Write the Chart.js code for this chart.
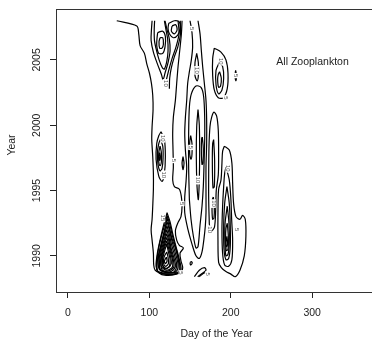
<!DOCTYPE html>
<html lang="en">
<head>
  <meta charset="UTF-8">
  <title>All Zooplankton</title>
  <script src="https://cdn.jsdelivr.net/npm/chart.js"></script>
  <style>
    html, body { margin: 0; padding: 0; background: #fff; overflow: hidden; }
    .grafico { width: 380px; height: 346px; }
  </style>
</head>
<body>
  <div class="grafico">
    <canvas id="gf1" width="380" height="346"></canvas>
  </div>

<script>
  // eixos
  const xTicks = [0, 100, 200, 300]
  const yTicks = [1990, 1995, 2000, 2005]
  const xMin = -14.6, xMax = 379.6
  const yMin = 1987.23, yMax = 2008.9

  // linhas de contorno, pontos [dia do ano, ano]
  const troncoFora = [[60, 2008.0], [84.6, 2007.6], [87.0, 2007.0], [88.7, 2006.1], [94.0, 2005.5], [96.9, 2004.7], [100.1, 2004.0], [102.6, 2003.2], [104.2, 2002.3], [104.6, 2001.2], [103.4, 1999.9], [103.0, 1998.9], [104.2, 1997.6], [105.0, 1996.3], [105.0, 1995.1], [104.2, 1993.8], [103.4, 1992.8], [102.2, 1992.0], [103.4, 1991.2], [105.0, 1990.2], [105.4, 1989.3], [107.1, 1988.9], [112.4, 1988.7], [120.6, 1988.6], [130.8, 1988.6], [138.9, 1988.7], [141.0, 1989.1], [138.9, 1989.6], [137.7, 1990.2], [141.8, 1990.6], [136.9, 1990.8], [133.6, 1991.2], [132.0, 1991.9], [134.9, 1992.5], [138.9, 1993.0], [140.2, 1993.8], [139.4, 1994.5], [136.9, 1995.1], [130.8, 1995.3], [128.7, 1995.8], [129.5, 1996.8], [129.1, 1998.1], [128.7, 1999.4], [129.5, 2000.6], [132.0, 2001.9], [133.6, 2003.2], [135.3, 2004.5], [137.3, 2005.7], [139.4, 2007.0], [140.2, 2008.0]]
  const lingua = [[103.4, 2008.0], [102.6, 2007.3], [102.2, 2006.5], [105.0, 2005.6], [109.9, 2004.7], [114.8, 2003.9], [116.9, 2003.5], [119.3, 2004.0], [123.0, 2004.8], [125.5, 2005.7], [124.6, 2006.6], [121.4, 2007.4], [119.3, 2008.0]]
  const lingua2 = [[106.5, 2008.0], [106.0, 2007.3], [106.3, 2006.5], [108.5, 2005.8], [112.0, 2005.0], [116.0, 2004.4], [118.5, 2004.3], [121.5, 2004.9], [123.0, 2005.7], [122.5, 2006.6], [120.5, 2007.3], [118.5, 2008.0]]
  const linguaDir = [[135.3, 2008.0], [136.5, 2007.0], [132.8, 2006.0], [127.9, 2005.1], [123.8, 2004.2], [120.6, 2003.4]]
  const linguaDir2 = [[138.0, 2008.0], [138.3, 2007.0], [135.0, 2006.0], [130.5, 2005.2], [127.0, 2004.4], [125.0, 2003.6], [124.6, 2002.8]]
  const laco1 = [[110.3, 2007.1], [116.5, 2007.2], [119.7, 2006.8], [119.3, 2006.0], [116.5, 2005.5], [111.6, 2005.5], [109.1, 2006.1], [109.5, 2006.7], [110.3, 2007.1]]
  const laco2 = [[113.2, 2006.7], [116.5, 2006.7], [117.3, 2006.2], [115.6, 2005.9], [112.8, 2005.9], [111.9, 2006.4], [113.2, 2006.7]]
  const laco3 = [[123.8, 2007.8], [130.8, 2008.0], [136.9, 2007.9], [137.7, 2007.4], [134.9, 2006.9], [129.5, 2006.7], [124.6, 2007.0], [123.0, 2007.4], [123.8, 2007.8]]
  const laco4 = [[127.9, 2007.6], [132.4, 2007.7], [134.1, 2007.3], [130.8, 2007.0], [127.1, 2007.2], [127.9, 2007.6]]

  const meio1 = [[114.4, 1999.5], [118.5, 1998.9], [119.7, 1997.6], [118.5, 1996.3], [115.6, 1995.7], [111.6, 1996.1], [108.3, 1997.4], [109.1, 1998.6], [111.6, 1999.2], [114.4, 1999.5]]
  const meio2 = [[113.6, 1998.9], [116.5, 1998.4], [116.9, 1997.5], [115.6, 1996.7], [113.2, 1996.5], [110.7, 1997.0], [109.9, 1997.9], [111.6, 1998.6], [113.6, 1998.9]]
  const meio3 = [[113.2, 1998.4], [114.8, 1997.9], [114.8, 1997.2], [113.2, 1996.9], [111.6, 1997.2], [111.6, 1997.9], [113.2, 1998.4]]
  const meio4 = [[112.8, 1997.9], [113.6, 1997.6], [112.8, 1997.3], [112.0, 1997.6], [112.8, 1997.9]]

  const gota1 = [[121.8, 1993.3], [125.5, 1992.6], [128.7, 1991.7], [132.8, 1990.7], [136.9, 1989.7], [138.9, 1988.9], [132.8, 1988.6], [120.6, 1988.5], [111.6, 1988.7], [108.3, 1989.2], [109.9, 1990.2], [113.2, 1991.2], [117.3, 1992.3], [121.8, 1993.3]]
  const gotaA = [[121.8, 1993.1], [125.0, 1992.45], [128.3, 1991.55], [132.6, 1990.6], [136.5, 1989.6], [137.5, 1988.85], [130.0, 1988.6], [118.5, 1988.6], [110.5, 1988.8], [109.1, 1989.5], [111.2, 1990.5], [114.8, 1991.5], [119.5, 1992.5], [121.8, 1993.1]]
  const gota2 = [[121.8, 1992.9], [124.2, 1992.3], [127.5, 1991.4], [132.4, 1990.5], [136.1, 1989.5], [136.1, 1988.8], [127.9, 1988.7], [116.5, 1988.7], [109.5, 1988.9], [110.3, 1989.8], [114.4, 1990.8], [118.1, 1991.7], [121.8, 1992.9]]
  const gota3 = [[121.8, 1992.6], [124.6, 1992.0], [127.9, 1991.1], [132.0, 1990.2], [135.3, 1989.3], [132.8, 1988.8], [122.6, 1988.7], [113.2, 1988.9], [110.7, 1989.5], [112.4, 1990.3], [115.6, 1991.2], [118.9, 1992.0], [121.8, 1992.6]]
  const gotaB = [[121.6, 1992.3], [124.4, 1991.7], [127.3, 1990.85], [131.2, 1990.0], [133.6, 1989.25], [129.8, 1988.75], [120.5, 1988.75], [113.2, 1988.95], [111.8, 1989.6], [113.8, 1990.4], [117.0, 1991.25], [121.6, 1992.3]]
  const gota4 = [[121.4, 1992.0], [124.2, 1991.4], [126.7, 1990.6], [130.4, 1989.8], [132.0, 1989.2], [126.7, 1988.8], [118.5, 1988.8], [113.2, 1989.0], [112.8, 1989.7], [115.2, 1990.5], [118.5, 1991.3], [121.4, 1992.0]]
  const gotaC = [[121.4, 1991.7], [124.0, 1991.15], [126.5, 1990.4], [129.5, 1989.7], [130.0, 1989.15], [123.6, 1988.85], [116.0, 1988.9], [114.0, 1989.35], [114.0, 1989.75], [116.3, 1990.5], [118.9, 1991.15], [121.4, 1991.7]]
  const gota5 = [[121.4, 1991.4], [123.8, 1990.9], [126.3, 1990.2], [128.7, 1989.6], [127.9, 1989.1], [120.6, 1988.9], [114.8, 1989.2], [114.8, 1989.8], [117.3, 1990.5], [119.3, 1991.0], [121.4, 1991.4]]
  const gotaD = [[121.4, 1991.15], [123.6, 1990.6], [125.9, 1990.0], [127.0, 1989.4], [122.0, 1989.05], [117.5, 1989.15], [115.5, 1989.55], [117.9, 1990.45], [121.4, 1991.15]]
  const gota6 = [[121.4, 1990.9], [123.4, 1990.3], [125.5, 1989.7], [124.6, 1989.2], [119.7, 1989.0], [116.1, 1989.3], [116.5, 1989.8], [118.9, 1990.4], [121.4, 1990.9]]
  const gota7 = [[121.4, 1990.3], [123.0, 1989.9], [123.4, 1989.4], [119.7, 1989.2], [117.3, 1989.5], [118.1, 1989.9], [121.4, 1990.3]]
  const gota8 = [[121.0, 1989.9], [121.8, 1989.6], [119.7, 1989.4], [118.5, 1989.6], [121.0, 1989.9]]

  const ponto1 = [[150.0, 1989.5], [152.0, 1989.55], [152.5, 1989.4], [150.5, 1989.3], [150.0, 1989.5]]
  const zigue1 = [[155.3, 1988.4], [161.4, 1988.9], [167.6, 1989.1], [169.6, 1988.9], [163.5, 1988.6], [159.4, 1988.4]]
  const zigue2 = [[161.4, 1988.4], [167.6, 1988.7], [173.7, 1988.6]]

  const faixaFora = [[150.0, 2008.0], [152.4, 2007.1], [153.2, 2006.0], [151.6, 2005.0], [149.2, 2004.1], [147.1, 2003.2], [145.9, 2001.9], [144.3, 2000.6], [143.5, 1999.4], [144.3, 1998.1], [145.9, 1996.8], [145.1, 1995.7], [143.5, 1994.5], [143.5, 1993.3], [147.5, 1992.0], [152.4, 1990.9], [157.3, 1990.0], [161.4, 1989.8], [164.7, 1990.3], [167.1, 1991.3], [168.8, 1992.3], [169.6, 1993.3], [169.6, 1994.8], [169.6, 1996.8], [170.4, 1998.6], [170.4, 2000.4], [169.6, 2001.9], [167.6, 2003.2], [165.5, 2004.5], [163.9, 2005.7], [162.3, 2007.0], [159.8, 2008.0]]
  const faixaArco = [[149.2, 1994.3], [148.3, 1996.8], [148.3, 1999.4], [149.2, 2001.4], [151.6, 2002.4], [157.3, 2003.0], [163.5, 2002.9], [166.7, 2002.2], [168.0, 2000.6], [168.0, 1998.9], [167.1, 1996.8], [166.3, 1995.3], [164.7, 1993.8], [162.2, 1992.3], [159.8, 1990.7], [157.3, 1990.6], [154.1, 1991.5], [151.2, 1992.8], [149.2, 1994.3]]
  const faixa1 = [[158.2, 2005.5], [160.2, 2004.8], [160.2, 2003.8], [158.6, 2003.4], [156.1, 2003.8], [156.1, 2004.8], [158.2, 2005.5]]
  const faixa2 = [[159.8, 2001.2], [161.4, 2000.0], [161.8, 1997.9], [161.4, 1995.9], [160.2, 1994.3], [158.6, 1995.3], [157.7, 1997.6], [158.2, 1999.9], [159.8, 2001.2]]
  const faixa3 = [[150.8, 1999.2], [152.4, 1998.6], [152.4, 1997.8], [151.2, 1997.4], [149.6, 1997.8], [149.6, 1998.7], [150.8, 1999.2]]
  const faixa4 = [[141.4, 1997.6], [142.6, 1997.1], [141.4, 1996.6], [140.2, 1997.1], [141.4, 1997.6]]
  const faixa5 = [[165.1, 1999.1], [166.3, 1998.2], [165.9, 1997.1], [164.7, 1997.0], [163.9, 1998.1], [164.3, 1999.0], [165.1, 1999.1]]
  const arcoDir = [[173.7, 1992.4], [172.9, 1994.3], [172.9, 1996.3], [173.3, 1998.4], [174.5, 1999.9], [176.5, 2000.6], [179.4, 2001.0], [182.7, 2000.7], [184.7, 1999.6], [185.1, 1997.8], [184.7, 1996.2], [182.2, 1995.0], [181.5, 1993.5], [180.0, 1992.2], [176.1, 1991.9], [173.7, 1992.4]]
  const arco1 = [[178.6, 1994.5], [179.8, 1993.8], [179.4, 1992.9], [177.8, 1992.8], [177.0, 1993.5], [177.4, 1994.3], [178.6, 1994.5]]
  const arco2 = [[179.0, 1998.9], [180.2, 1997.3], [179.8, 1995.3], [178.2, 1995.2], [177.4, 1997.1], [177.8, 1998.6], [179.0, 1998.9]]

  const cima1 = [[179.8, 2005.9], [188.0, 2005.6], [194.1, 2005.0], [196.6, 2004.0], [195.7, 2002.8], [190.9, 2002.1], [184.7, 2002.1], [179.8, 2002.7], [177.8, 2003.8], [177.8, 2005.1], [179.8, 2005.9]]
  const cima2 = [[185.9, 2004.8], [190.0, 2004.5], [191.3, 2003.6], [189.2, 2002.7], [185.1, 2002.4], [181.9, 2003.1], [181.9, 2004.2], [185.9, 2004.8]]
  const cima3 = [[186.3, 2004.1], [188.4, 2003.6], [187.5, 2003.0], [185.1, 2002.9], [183.9, 2003.5], [184.7, 2003.9], [186.3, 2004.1]]
  const cimaPonto = [[206.0, 2004.2], [207.2, 2003.8], [206.4, 2003.4], [205.2, 2003.8], [206.0, 2004.2]]

  const baixo1 = [[192.1, 1998.4], [198.2, 1998.1], [201.4, 1997.1], [202.3, 1995.6], [203.5, 1994.0], [206.4, 1993.0], [211.3, 1992.8], [214.5, 1993.1], [217.8, 1992.8], [218.6, 1991.5], [216.6, 1990.0], [211.3, 1988.9], [205.5, 1988.4], [200.2, 1988.6], [194.1, 1988.8], [188.4, 1989.1], [185.1, 1989.5], [184.3, 1991.2], [184.3, 1993.3], [185.1, 1995.1], [188.0, 1995.8], [189.2, 1997.1], [190.0, 1998.0], [192.1, 1998.4]]
  const baixo2 = [[194.1, 1996.8], [198.2, 1995.8], [200.2, 1994.3], [201.1, 1992.8], [202.3, 1991.2], [201.4, 1989.7], [197.4, 1989.2], [192.5, 1989.3], [190.0, 1990.2], [189.2, 1992.0], [190.0, 1993.8], [191.3, 1995.3], [192.5, 1996.3], [194.1, 1996.8]]
  const baixo3 = [[195.3, 1995.3], [198.2, 1994.0], [199.4, 1992.3], [199.4, 1990.7], [197.4, 1989.8], [194.1, 1989.7], [191.7, 1990.5], [191.3, 1992.3], [192.5, 1994.0], [195.3, 1995.3]]
  const baixo4 = [[195.7, 1993.8], [197.8, 1992.5], [198.2, 1991.0], [196.6, 1990.1], [194.1, 1990.0], [192.9, 1990.9], [192.9, 1992.4], [195.7, 1993.8]]
  const baixo5 = [[195.7, 1992.5], [197.0, 1991.5], [196.6, 1990.5], [194.5, 1990.4], [193.7, 1991.4], [194.1, 1992.1], [195.7, 1992.5]]
  const baixo6 = [[195.3, 1991.5], [196.2, 1990.9], [194.9, 1990.7], [194.1, 1991.0], [195.3, 1991.5]]

  const contornos = [troncoFora, lingua, lingua2, linguaDir, linguaDir2, laco1, laco2, laco3, laco4,
    meio1, meio2, meio3, meio4,
    gota1, gotaA, gota2, gota3, gotaB, gota4, gotaC, gota5, gotaD, gota6, gota7, gota8,
    ponto1, zigue1, zigue2,
    faixaFora, faixaArco, faixa1, faixa2, faixa3, faixa4, faixa5, arcoDir, arco1, arco2,
    cima1, cima2, cima3, cimaPonto,
    baixo1, baixo2, baixo3, baixo4, baixo5, baixo6]

  // rotulos dos niveis [dia, ano, texto]
  const rotulos = [[119.5, 2003.2, '10'], [151.8, 2007.4, '5'], [158.2, 2004.2, '10'], [188.0, 2004.9, '10'],
    [193.3, 2002.1, '5'], [206.6, 2003.8, '5'], [116.5, 1999.0, '10'], [117.3, 1996.2, '10'],
    [129.3, 1997.3, '5'], [150.8, 1998.3, '5'], [159.8, 1995.8, '10'], [178.6, 1994.0, '10'],
    [174.1, 1992.0, '10'], [140.2, 1994.0, '5'], [196.6, 1996.7, '10'], [207.2, 1992.0, '5'],
    [139.0, 1988.7, '5'], [171.6, 1988.6, '5'], [116.5, 1992.9, '15']]

  const textoCanto = 'All Zooplankton'
  const textoCantoPos = [256, 2004.8]

  const fonte = '"Liberation Sans", Arial, sans-serif'

  const plugMoldura = {
    id: 'moldura',
    afterDatasetsDraw(chart) {
      const { ctx, chartArea: a, scales: { x, y } } = chart
      ctx.save()

      // rotulos das curvas
      ctx.font = '6px ' + fonte
      ctx.textAlign = 'center'
      ctx.textBaseline = 'middle'
      for (const [dia, ano, txt] of rotulos) {
        ctx.save()
        ctx.translate(x.getPixelForValue(dia), y.getPixelForValue(ano))
        ctx.rotate(Math.PI / 2)
        const w = ctx.measureText(txt).width
        ctx.fillStyle = '#fff'
        ctx.fillRect(-w / 2 - 1, -2.5, w + 2, 5)
        ctx.fillStyle = '#555'
        ctx.fillText(txt, 0, 0)
        ctx.restore()
      }

      // caixa
      ctx.strokeStyle = '#333'
      ctx.lineWidth = 1
      ctx.strokeRect(a.left + 0.5, a.top + 0.5, a.right - a.left - 1, a.bottom - a.top)

      ctx.fillStyle = '#222'
      ctx.font = '10.5px ' + fonte

      // anos do eixo y (na vertical)
      for (const v of yTicks) {
        ctx.save()
        ctx.translate(37, y.getPixelForValue(v))
        ctx.rotate(-Math.PI / 2)
        ctx.fillText(String(v), 0, 0)
        ctx.restore()
      }

      // titulos
      ctx.save()
      ctx.translate(12, 145)
      ctx.rotate(-Math.PI / 2)
      ctx.fillText('Year', 0, 0)
      ctx.restore()

      ctx.fillText('Day of the Year', (a.left + a.right) / 2, 334)

      ctx.textAlign = 'left'
      ctx.fillText(textoCanto, x.getPixelForValue(textoCantoPos[0]), y.getPixelForValue(textoCantoPos[1]))

      ctx.restore()
    }
  }

  const ctx = document.getElementById('gf1').getContext('2d')

  new Chart(ctx, {
    type: 'scatter',
    data: {
      datasets: contornos.map(function (linha) {
        return {
          data: linha.map(p => ({ x: p[0], y: p[1] })),
          showLine: true,
          pointRadius: 0,
          borderColor: '#000',
          borderWidth: 1.2,
          tension: 0.3,
          fill: false
        }
      })
    },
    options: {
      responsive: false,
      animation: false,
      devicePixelRatio: 1,
      layout: { padding: { left: 0, right: 3, top: 9, bottom: 0 } },
      plugins: {
        legend: { display: false },
        tooltip: { enabled: false }
      },
      scales: {
        x: {
          type: 'linear',
          min: xMin,
          max: xMax,
          afterBuildTicks: s => { s.ticks = xTicks.map(v => ({ value: v })) },
          afterFit: s => { s.height = 54 },
          grid: { drawOnChartArea: false, drawTicks: true, tickLength: 6, color: '#222' },
          border: { display: false },
          ticks: {
            padding: 9,
            color: '#222',
            font: { size: 10.5, family: fonte },
            maxRotation: 0,
            callback: v => String(v)
          }
        },
        y: {
          type: 'linear',
          min: yMin,
          max: yMax,
          afterBuildTicks: s => { s.ticks = yTicks.map(v => ({ value: v })) },
          afterFit: s => { s.width = 56 },
          grid: { drawOnChartArea: false, drawTicks: true, tickLength: 6, color: '#222' },
          border: { display: false },
          ticks: { display: false }
        }
      }
    },
    plugins: [plugMoldura]
  })
</script>
</body>
</html>
